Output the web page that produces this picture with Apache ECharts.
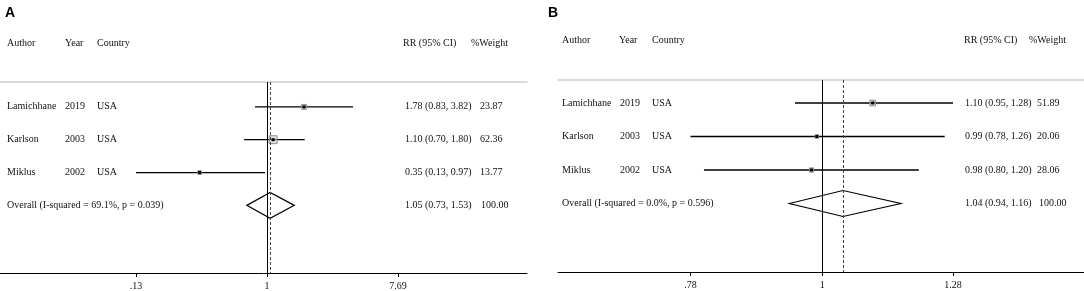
<!DOCTYPE html>
<html>
<head>
<meta charset="utf-8">
<title>Forest plots</title>
<script src="https://cdn.jsdelivr.net/npm/echarts@6/dist/echarts.min.js"></script>
<style>
  html, body { margin: 0; padding: 0; background: #fff; }
  #main { width: 1084px; height: 291px; }
</style>
</head>
<body>
<div id="main"></div>
<script>
// studies (same three in both panels)
const authors = ['Lamichhane', 'Karlson', 'Miklus']
const years = ['2019', '2003', '2002']
const countries = ['USA', 'USA', 'USA']

// panel A
const rrA = [1.78, 1.10, 0.35]
const lowA = [0.83, 0.70, 0.13]
const highA = [3.82, 1.80, 0.97]
const weightA = [23.87, 62.36, 13.77]
const overallA = [1.05, 0.73, 1.53] // RR, low, high
const overallTextA = 'Overall (I-squared = 69.1%, p = 0.039)'
const ticksA = [0.13, 1, 7.69]
const tickLabelsA = ['.13', '1', '7.69']

// panel B
const rrB = [1.10, 0.99, 0.98]
const lowB = [0.95, 0.78, 0.80]
const highB = [1.28, 1.26, 1.20]
const weightB = [51.89, 20.06, 28.06]
const overallB = [1.04, 0.94, 1.16]
const overallTextB = 'Overall (I-squared = 0.0%, p = 0.596)'
const ticksB = [0.78, 1, 1.28]
const tickLabelsB = ['.78', '1', '1.28']

const headers = ['Author', 'Year', 'Country', 'RR (95% CI)', '%Weight']

const FONT = '10px "Liberation Serif", "Times New Roman", serif'

// layout of each panel (pixels / axis ranges)
const panels = [
  {
    letter: 'A', letterX: 5,
    rr: rrA, low: lowA, high: highA, weight: weightA,
    overall: overallA, overallText: overallTextA,
    ticks: ticksA, tickLabels: tickLabelsA,
    grid: { left: 0, top: 82, width: 527, height: 192 },
    xMin: -4.159, xMax: 4.05, yMin: 0.2424, yMax: 6.06,
    cols: [7, 65, 97, 405, 480], overallWeightX: 481,
    headY: 43.5, headCols: [7, 65, 97, 403, 471],
    boxScale: 1
  },
  {
    letter: 'B', letterX: 548,
    rr: rrB, low: lowB, high: highB, weight: weightB,
    overall: overallB, overallText: overallTextB,
    ticks: ticksB, tickLabels: tickLabelsB,
    grid: { left: 558, top: 80, width: 526, height: 192 },
    xMin: -0.4985, xMax: 0.494, yMin: 0.3134, yMax: 6.045,
    cols: [562, 620, 652, 965, 1037], overallWeightX: 1039,
    headY: 40.5, headCols: [562, 619, 652, 964, 1029],
    boxScale: 0.8
  }
]

function txt (x, y, s) {
  return {
    type: 'text',
    x: x,
    y: y,
    style: { text: s, font: FONT, fill: '#111', align: 'left', verticalAlign: 'middle' }
  }
}

// one row per study: CI line, weight box, point and the text columns
function studyRenderer (p) {
  return function (params, api) {
    const i = params.dataIndex
    const row = api.value(0)
    const y = api.coord([0, row])[1]
    const x = api.coord([Math.log(api.value(1)), row])[0]
    const lo = api.coord([Math.log(api.value(2)), row])[0]
    const hi = api.coord([Math.log(api.value(3)), row])[0]
    const box = Math.sqrt(api.value(4)) * p.boxScale
    const ci = p.rr[i].toFixed(2) + ' (' + p.low[i].toFixed(2) + ', ' + p.high[i].toFixed(2) + ')'
    return {
      type: 'group',
      children: [
        { type: 'line', shape: { x1: lo, y1: y, x2: hi, y2: y }, style: { stroke: '#000', lineWidth: 1.3 } },
        { type: 'rect', shape: { x: x - box / 2, y: y - box / 2, width: box, height: box }, style: { fill: 'rgba(190,190,190,0.45)', stroke: '#8e8e8e', lineWidth: 1 } },
        { type: 'rect', shape: { x: x - 1.5, y: y - 1.5, width: 3, height: 3 }, style: { fill: '#000' } },
        txt(p.cols[0], y, authors[i]),
        txt(p.cols[1], y, years[i]),
        txt(p.cols[2], y, countries[i]),
        txt(p.cols[3], y, ci),
        txt(p.cols[4], y, p.weight[i].toFixed(2))
      ]
    }
  }
}

// pooled estimate: diamond and its texts
function overallRenderer (p) {
  return function (params, api) {
    const row = api.value(0)
    const y = api.coord([0, row])[1]
    const x = api.coord([Math.log(api.value(1)), row])[0]
    const lo = api.coord([Math.log(api.value(2)), row])[0]
    const hi = api.coord([Math.log(api.value(3)), row])[0]
    const h = 13
    const ci = p.overall[0].toFixed(2) + ' (' + p.overall[1].toFixed(2) + ', ' + p.overall[2].toFixed(2) + ')'
    return {
      type: 'group',
      children: [
        { type: 'polygon', shape: { points: [[lo, y], [x, y - h], [hi, y], [x, y + h]] }, style: { fill: 'none', stroke: '#000', lineWidth: 1.2 } },
        txt(p.cols[0], y, p.overallText),
        txt(p.cols[3], y, ci),
        txt(p.overallWeightX, y, (100).toFixed(2))
      ]
    }
  }
}

const option = {
  animation: false,
  backgroundColor: '#fff',
  grid: [],
  xAxis: [],
  yAxis: [],
  series: [],
  graphic: []
}

panels.forEach((p, k) => {
  const tickLn = p.ticks.map(v => Math.log(v))
  option.grid.push(Object.assign({ containLabel: false }, p.grid))
  // bottom axis with the RR ticks
  option.xAxis.push({
    gridIndex: k,
    type: 'value',
    min: p.xMin,
    max: p.xMax,
    position: 'bottom',
    axisLine: { show: true, onZero: false, lineStyle: { color: '#000', width: 1 } },
    axisTick: { show: true, length: 4, customValues: tickLn, lineStyle: { color: '#000' } },
    axisLabel: {
      customValues: tickLn,
      margin: 8,
      color: '#111',
      fontFamily: '"Liberation Serif", serif',
      fontSize: 10,
      formatter: v => {
        let best = 0
        tickLn.forEach((t, j) => { if (Math.abs(t - v) < Math.abs(tickLn[best] - v)) best = j })
        return p.tickLabels[best]
      }
    },
    splitLine: { show: false }
  })
  // grey separator under the header
  option.xAxis.push({
    gridIndex: k,
    type: 'value',
    min: p.xMin,
    max: p.xMax,
    position: 'top',
    axisLine: { show: true, onZero: false, lineStyle: { color: '#cdcdcd', width: 1.5 } },
    axisTick: { show: false },
    axisLabel: { show: false },
    splitLine: { show: false }
  })
  option.yAxis.push({
    gridIndex: k,
    type: 'value',
    inverse: true,
    min: p.yMin,
    max: p.yMax,
    show: false
  })

  option.series.push({
    type: 'custom',
    xAxisIndex: 2 * k,
    yAxisIndex: k,
    clip: false,
    silent: true,
    renderItem: studyRenderer(p),
    data: authors.map((a, i) => [i + 1, p.rr[i], p.low[i], p.high[i], p.weight[i]]),
    markLine: {
      silent: true,
      symbol: 'none',
      label: { show: false },
      data: [
        { xAxis: 0, lineStyle: { color: '#000', type: 'solid', width: 1 } },
        { xAxis: Math.log(p.overall[0]), lineStyle: { color: '#444', type: [3, 2], width: 1 } }
      ]
    }
  })
  option.series.push({
    type: 'custom',
    xAxisIndex: 2 * k,
    yAxisIndex: k,
    clip: false,
    silent: true,
    renderItem: overallRenderer(p),
    data: [[authors.length + 1, p.overall[0], p.overall[1], p.overall[2]]]
  })

  // panel letter and column headers
  option.graphic.push({
    type: 'text',
    left: p.letterX,
    top: 6,
    style: { text: p.letter, font: 'bold 14px "Liberation Sans", Arial, sans-serif', fill: '#000' }
  })
  headers.forEach((h, j) => {
    option.graphic.push({
      type: 'text',
      x: p.headCols[j],
      y: p.headY,
      style: { text: h, font: FONT, fill: '#111', verticalAlign: 'middle' }
    })
  })
})

const chart = echarts.init(document.getElementById('main'))
chart.setOption(option)
</script>
</body>
</html>
